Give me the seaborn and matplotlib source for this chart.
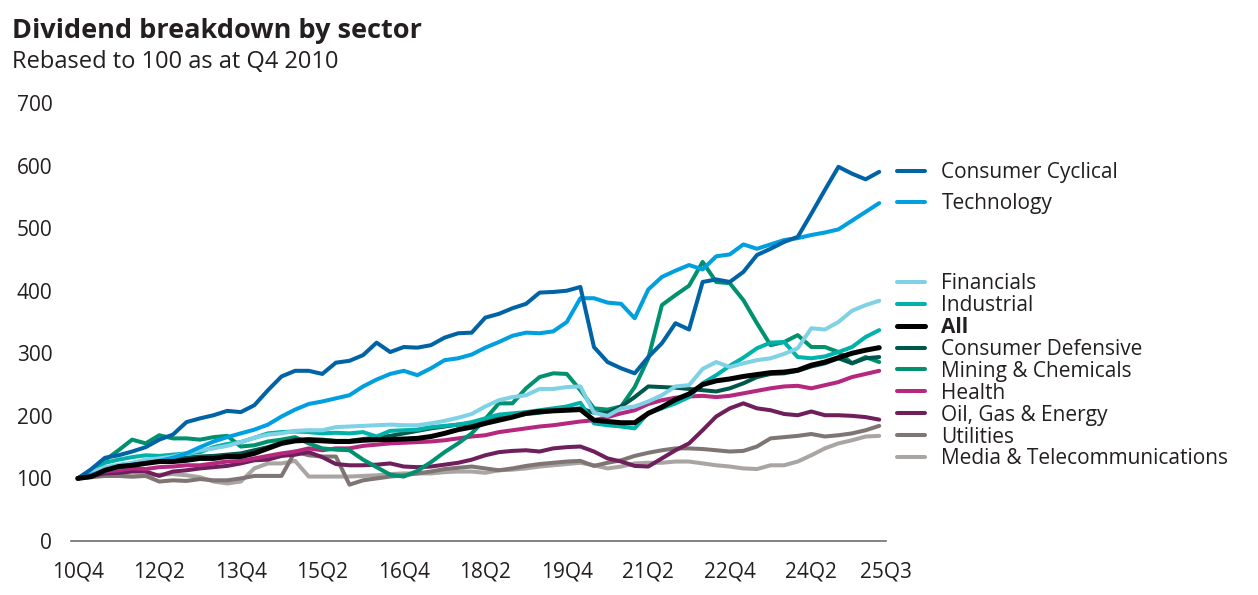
import matplotlib
matplotlib.use("Agg")
import matplotlib.pyplot as plt
import seaborn as sns
import pandas as pd
from matplotlib.lines import Line2D

# ---------------- data ----------------
quarters = []
for yr in range(2010, 2026):
    for q in range(1, 5):
        if (yr == 2010 and q < 4) or (yr == 2025 and q > 3):
            continue
        quarters.append(f"{yr % 100:02d}Q{q}")

tick_labels = ["10Q4", "12Q2", "13Q4", "15Q2", "16Q4", "18Q2", "19Q4",
               "21Q2", "22Q4", "24Q2", "25Q3"]

consumer_cyclical = [100, 115, 133, 137, 143, 150, 162, 170, 190, 196,
                     201, 208, 206, 217, 241, 263, 272, 272, 267, 285,
                     288, 297, 317, 302, 310, 309, 313, 325, 332, 333,
                     357, 363, 372, 379, 397, 398, 400, 406, 310, 286,
                     276, 268, 294, 316, 348, 338, 414, 418, 414, 430,
                     457, 467, 478, 486, 523, 561, 598, 587, 578, 590]
technology = [100, 106, 112, 118, 122, 125, 128, 133, 140, 150,
              159, 166, 172, 178, 186, 199, 210, 219, 223, 228,
              233, 247, 258, 267, 272, 265, 276, 289, 292, 298,
              309, 318, 328, 333, 332, 335, 350, 388, 388, 381,
              379, 356, 402, 422, 432, 441, 434, 455, 458, 474,
              467, 474, 481, 484, 489, 493, 498, 512, 526, 540]
financials = [100, 110, 118, 122, 125, 130, 132, 135, 140, 145,
              148, 152, 158, 165, 170, 172, 176, 177, 177, 182,
              183, 184, 185, 186, 185, 185, 188, 192, 197, 203,
              215, 225, 230, 233, 243, 243, 246, 247, 205, 200,
              212, 215, 223, 233, 247, 249, 275, 286, 278, 284,
              289, 292, 299, 308, 340, 338, 350, 368, 377, 384]
industrial = [100, 112, 125, 130, 134, 137, 136, 138, 140, 142,
              150, 155, 158, 165, 172, 174, 175, 174, 172, 173,
              172, 174, 167, 176, 177, 178, 182, 184, 186, 190,
              196, 202, 204, 206, 209, 212, 215, 221, 188, 185,
              183, 180, 205, 212, 220, 230, 252, 265, 280, 293,
              308, 317, 318, 294, 292, 295, 302, 310, 326, 337]
all_sectors = [100, 103, 113, 119, 121, 124, 127, 127, 129, 132,
               132, 135, 135, 140, 148, 156, 160, 161, 160, 159,
               159, 161, 162, 162, 163, 164, 167, 172, 178, 182,
               188, 193, 198, 204, 207, 208, 209, 210, 193, 191,
               189, 189, 204, 214, 226, 235, 250, 256, 259, 263,
               266, 269, 270, 273, 281, 286, 293, 300, 305, 309]
consumer_defensive = [100, 105, 115, 120, 124, 127, 130, 131, 133, 135,
                      136, 138, 140, 145, 150, 157, 162, 163, 162, 160,
                      160, 163, 165, 168, 172, 176, 180, 183, 186, 188,
                      193, 197, 200, 203, 205, 208, 210, 212, 205, 205,
                      215, 230, 247, 246, 245, 243, 241, 239, 244, 252,
                      262, 267, 268, 272, 279, 284, 292, 284, 292, 294]
mining_chemicals = [100, 113, 129, 145, 162, 156, 169, 164, 164, 162,
                    166, 168, 151, 153, 159, 162, 166, 156, 148, 146,
                    145, 130, 118, 106, 103, 112, 126, 142, 156, 172,
                    195, 220, 220, 244, 262, 268, 267, 241, 212, 210,
                    215, 246, 292, 377, 393, 408, 446, 414, 412, 385,
                    348, 313, 318, 329, 310, 310, 302, 284, 294, 286]
health = [100, 105, 111, 113, 116, 115, 118, 119, 121, 121,
          124, 127, 128, 132, 136, 140, 143, 148, 145, 148,
          148, 152, 154, 156, 157, 158, 159, 161, 164, 167,
          169, 174, 177, 180, 183, 185, 188, 191, 193, 198,
          204, 209, 219, 225, 229, 231, 232, 230, 232, 236,
          240, 244, 247, 248, 244, 249, 254, 262, 267, 272]
oil_gas_energy = [100, 104, 108, 109, 111, 111, 104, 111, 113, 116,
                  118, 120, 124, 129, 130, 136, 138, 142, 134, 123,
                  121, 121, 122, 124, 119, 118, 119, 122, 125, 130,
                  137, 142, 144, 145, 143, 148, 150, 151, 143, 132,
                  127, 120, 119, 132, 145, 156, 177, 199, 212, 220,
                  212, 209, 203, 201, 207, 201, 201, 200, 198, 194]
utilities = [100, 102, 104, 104, 103, 104, 95, 97, 96, 99,
             97, 97, 100, 104, 104, 104, 143, 137, 135, 135,
             90, 97, 100, 103, 105, 108, 111, 115, 117, 119,
             116, 113, 116, 120, 123, 125, 127, 128, 120, 125,
             129, 136, 141, 145, 148, 148, 147, 145, 143, 144,
             151, 164, 166, 168, 171, 167, 169, 172, 177, 184]
media_telecom = [100, 103, 105, 104, 103, 104, 106, 107, 105, 102,
                 95, 92, 95, 116, 124, 124, 128, 103, 103, 103,
                 103, 104, 105, 107, 108, 108, 108, 110, 111, 111,
                 109, 113, 114, 116, 119, 121, 123, 125, 121, 116,
                 119, 124, 125, 125, 127, 127, 124, 121, 119, 116,
                 115, 121, 121, 127, 137, 148, 156, 161, 167, 168]

sector_names = ["Consumer Cyclical", "Technology", "Financials", "Industrial",
                "All", "Consumer Defensive", "Mining & Chemicals", "Health",
                "Oil, Gas & Energy", "Utilities", "Media & Telecommunications"]
sector_values = [consumer_cyclical, technology, financials, industrial,
                 all_sectors, consumer_defensive, mining_chemicals, health,
                 oil_gas_energy, utilities, media_telecom]
sector_colors = ["#0063A6", "#009FDF", "#7FD1E6", "#00B2A9", "#000000",
                 "#00574B", "#00916F", "#B5287D", "#6E1F5C", "#7F7674",
                 "#A9A5A3"]

rows = []
for name, vals in zip(sector_names, sector_values):
    for i, v in enumerate(vals):
        rows.append({"idx": i, "quarter": quarters[i], "value": v, "sector": name})
df = pd.DataFrame(rows)

# ---------------- style ----------------
sns.set_theme(style="white")
plt.rcParams["font.family"] = ["Open Sans", "DejaVu Sans"]
plt.rcParams["lines.solid_capstyle"] = "round"
plt.rcParams["lines.solid_joinstyle"] = "round"
text_color = "#231F20"
fs = 15

W, H = 1258, 595
fig = plt.figure(figsize=(W / 100, H / 100), dpi=100)
ax = fig.add_axes([71 / W, 54 / H, (886 - 71) / W, (492 - 54) / H])

palette = dict(zip(sector_names, sector_colors))
draw_order = list(reversed(sector_names))
draw_order.remove("All")
draw_order.append("All")
for z, name in enumerate(draw_order):
    sub = df[df["sector"] == name]
    sns.lineplot(data=sub, x="idx", y="value", color=palette[name],
                 linewidth=3.6 if name == "All" else 2.9, ax=ax,
                 legend=False, sort=False, zorder=2 + z)

ax.set_xlim(-0.5, len(quarters) - 0.5)
ax.set_ylim(0, 700)
ax.set_xlabel("")
ax.set_ylabel("")

# y axis
ax.set_yticks(range(0, 701, 100))
ax.tick_params(axis="y", length=0, pad=13.5, labelsize=fs, labelcolor=text_color)

# x axis: labels at categories, tick marks at category boundaries
label_pos = [quarters.index(t) if t != "25Q3" else len(quarters) - 0.5
             for t in tick_labels]
ax.set_xticks(label_pos)
ax.set_xticklabels(tick_labels)
ax.tick_params(axis="x", which="major", length=0, pad=14.5, labelsize=fs,
               labelcolor=text_color)
minor_pos = [p - 0.5 for p in label_pos[:-1]] + [len(quarters) - 0.5]
ax.set_xticks(minor_pos, minor=True)
ax.tick_params(axis="x", which="minor", length=5, width=1.1,
               color="#6D6E71", direction="out")

for s in ["left", "top", "right"]:
    ax.spines[s].set_visible(False)
ax.spines["bottom"].set_color("#6D6E71")
ax.spines["bottom"].set_linewidth(1.2)
ax.grid(False)

# ---------------- legends ----------------
def handles_for(names):
    return [Line2D([0], [0], color=palette[n],
                   lw=3.6 if n == "All" else 2.9, solid_capstyle="round")
            for n in names]

top_names = sector_names[:2]
bottom_names = sector_names[2:]

leg1 = fig.legend(handles_for(top_names), top_names, loc="upper left",
                  bbox_to_anchor=(897 / W, 1 - 162 / H), frameon=False,
                  borderpad=0, borderaxespad=0, handlelength=1.35,
                  handletextpad=0.78, labelspacing=0.5, fontsize=fs)
leg2 = fig.legend(handles_for(bottom_names), bottom_names, loc="upper left",
                  bbox_to_anchor=(897 / W, 1 - 273 / H), frameon=False,
                  borderpad=0, borderaxespad=0, handlelength=1.35,
                  handletextpad=0.78, labelspacing=0.045, fontsize=fs)
for leg in (leg1, leg2):
    for t in leg.get_texts():
        t.set_color(text_color)
for t in leg2.get_texts():
    if t.get_text() == "All":
        t.set_fontweight("bold")

# ---------------- titles ----------------
fig.text(12 / W, 1 - 38 / H, "Dividend breakdown by sector", fontsize=19.5,
         fontweight="bold", color=text_color, va="baseline", ha="left")
fig.text(12 / W, 1 - 68 / H, "Rebased to 100 as at Q4 2010", fontsize=17,
         color=text_color, va="baseline", ha="left")

fig.savefig("out.png", dpi=100)
